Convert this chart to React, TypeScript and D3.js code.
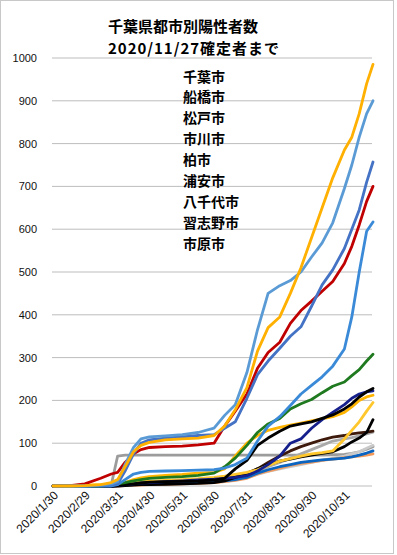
import React from "react";
import * as d3 from "d3";

// chart text
const titleLines = ["千葉県都市別陽性者数", "2020/11/27確定者まで"];
const titleWidths = [150, 171];
const legendNames = ["千葉市", "船橋市", "松戸市", "市川市", "柏市", "浦安市", "八千代市", "習志野市", "市原市"];
const yTicks = [0, 100, 200, 300, 400, 500, 600, 700, 800, 900, 1000];
const xTickDates = ["2020-01-30", "2020-02-29", "2020-03-31", "2020-04-30", "2020-05-31", "2020-06-30", "2020-07-31", "2020-08-31", "2020-09-30", "2020-10-31"];

// sample dates (cumulative counts)
const dates = [
  "2020-01-30", "2020-02-15", "2020-02-29", "2020-03-15", "2020-03-25", "2020-03-31",
  "2020-04-07", "2020-04-15", "2020-04-22", "2020-04-30", "2020-05-15", "2020-05-31",
  "2020-06-15", "2020-06-30", "2020-07-10", "2020-07-20", "2020-07-31", "2020-08-10",
  "2020-08-20", "2020-08-31", "2020-09-10", "2020-09-20", "2020-09-30", "2020-10-10",
  "2020-10-20", "2020-10-31", "2020-11-07", "2020-11-14", "2020-11-21", "2020-11-27",
];

const chiba = [0, 0, 1, 3, 8, 15, 45, 80, 95, 102, 108, 110, 112, 118, 140, 178, 230, 315, 370, 395, 450, 510, 580, 650, 720, 785, 815, 870, 940, 985];
const funabashi = [0, 0, 0, 2, 5, 10, 50, 90, 110, 115, 117, 120, 125, 135, 165, 190, 265, 365, 450, 468, 480, 500, 535, 568, 615, 695, 750, 815, 870, 900];
const matsudo = [0, 0, 0, 1, 3, 5, 35, 75, 100, 108, 112, 115, 118, 120, 135, 150, 205, 260, 292, 322, 350, 372, 420, 470, 505, 555, 600, 645, 710, 757];
const ichikawa = [0, 1, 5, 18, 28, 32, 55, 75, 85, 90, 92, 93, 96, 100, 140, 175, 215, 275, 312, 336, 380, 410, 432, 455, 478, 520, 560, 610, 665, 700];
const kashiwa = [0, 0, 0, 0, 0, 3, 15, 28, 32, 34, 35, 36, 37, 38, 42, 50, 65, 105, 140, 162, 188, 215, 235, 255, 280, 320, 395, 500, 595, 617];
const urayasu = [0, 0, 0, 0, 2, 5, 8, 12, 15, 18, 20, 22, 25, 30, 45, 65, 95, 125, 145, 158, 180, 192, 202, 218, 233, 243, 258, 272, 292, 308];
const yachiyo = [0, 0, 0, 0, 0, 1, 3, 5, 7, 9, 10, 11, 12, 14, 18, 40, 60, 95, 112, 128, 140, 145, 150, 158, 166, 180, 192, 208, 220, 228];
const narashino = [0, 0, 0, 0, 0, 1, 3, 5, 7, 8, 10, 12, 14, 16, 18, 20, 24, 35, 50, 70, 100, 110, 135, 155, 172, 190, 205, 215, 220, 222];
const ichihara = [0, 0, 0, 0, 1, 3, 8, 15, 19, 22, 25, 27, 30, 32, 40, 70, 100, 118, 130, 137, 142, 147, 152, 157, 162, 172, 185, 200, 208, 212];
const sakura = [0, 1, 2, 3, 4, 5, 7, 9, 10, 11, 13, 15, 17, 20, 23, 27, 32, 38, 48, 58, 64, 70, 75, 78, 82, 110, 130, 150, 175, 195];
const nagareyama = [0, 0, 0, 0, 0, 0, 1, 2, 3, 3, 4, 5, 6, 8, 12, 20, 28, 40, 50, 58, 63, 68, 72, 76, 80, 92, 103, 112, 125, 155];
const abiko = [0, 0, 0, 0, 0, 2, 4, 6, 8, 10, 11, 12, 13, 15, 18, 22, 30, 40, 55, 70, 82, 92, 100, 108, 114, 118, 122, 124, 126, 128];
const noda = [0, 0, 0, 0, 0, 1, 3, 5, 7, 9, 11, 13, 15, 17, 19, 21, 25, 35, 45, 55, 65, 75, 85, 95, 105, 110, 113, 117, 122, 126];
const inzai = [0, 0, 0, 0, 0, 1, 2, 3, 4, 5, 6, 7, 8, 9, 11, 14, 20, 27, 34, 40, 45, 50, 55, 60, 65, 70, 75, 80, 88, 95];
const katori = [0, 0, 0, 0, 3, 70, 72, 72, 72, 72, 72, 72, 72, 72, 72, 72, 72, 72, 72, 72, 72, 72, 72, 72, 73, 74, 76, 80, 86, 92];
const narita = [0, 0, 0, 0, 0, 0, 1, 2, 2, 3, 4, 5, 6, 8, 10, 13, 18, 28, 35, 42, 48, 53, 56, 60, 63, 66, 68, 70, 72, 75];
const kamagaya = [0, 0, 0, 0, 0, 1, 2, 3, 4, 5, 6, 7, 8, 10, 12, 15, 20, 30, 38, 45, 50, 55, 58, 61, 63, 65, 68, 72, 77, 82];

const series = [
  { name: "香取市", values: katori, color: "#9c9c9c" },
  { name: "印西市", values: inzai, color: "#c9c9c9" },
  { name: "野田市", values: noda, color: "#a9a9a9" },
  { name: "成田市", values: narita, color: "#f39a5a" },
  { name: "鎌ケ谷市", values: kamagaya, color: "#0a64c0" },
  { name: "我孫子市", values: abiko, color: "#3d1a0c" },
  { name: "流山市", values: nagareyama, color: "#000000" },
  { name: "佐倉市", values: sakura, color: "#ffc72c" },
  { name: "市原市", values: ichihara, color: "#ffb400" },
  { name: "習志野市", values: narashino, color: "#16208c" },
  { name: "八千代市", values: yachiyo, color: "#000000" },
  { name: "浦安市", values: urayasu, color: "#1f7a1f" },
  { name: "柏市", values: kashiwa, color: "#3a8ad8" },
  { name: "市川市", values: ichikawa, color: "#c00000" },
  { name: "松戸市", values: matsudo, color: "#4472c4" },
  { name: "船橋市", values: funabashi, color: "#5b9bd5" },
  { name: "千葉市", values: chiba, color: "#ffb000" },
];

export default function App() {
  const width = 397;
  const height = 555;
  const parse = d3.timeParse("%Y-%m-%d");
  const days = dates.map((d) => parse(d) as Date);

  const x = d3
    .scaleTime()
    .domain([parse("2020-01-30") as Date, parse("2020-11-27") as Date])
    .range([53, 373]);
  const y = d3.scaleLinear().domain([0, 1000]).range([486, 58]);

  const line = d3
    .line<number>()
    .x((_, i) => x(days[i]))
    .y((v) => y(v));

  const cjk = "'Noto Sans CJK JP', 'Noto Sans', sans-serif";
  const latin = "'Liberation Sans', Arial, sans-serif";

  return (
    <svg width={width} height={height} style={{ position: "absolute", left: 0, top: 0, background: "#fff" }}>
      <rect x={0.5} y={0.5} width={393} height={553} fill="#fff" stroke="#c8c8c8" />

      {/* gridlines + y labels */}
      {yTicks.map((t) => (
        <g key={t}>
          <line x1={52} x2={372} y1={y(t)} y2={y(t)} stroke="#bdbdbd" strokeWidth={1} />
          <text x={37} y={y(t)} textAnchor="end" dominantBaseline="central" fontSize={11} fontFamily={latin} fill="#111">
            {t}
          </text>
        </g>
      ))}

      {/* x labels */}
      {xTickDates.map((s) => {
        const d = parse(s) as Date;
        const label = `${d.getFullYear()}/${d.getMonth() + 1}/${d.getDate()}`;
        return (
          <text
            key={s}
            transform={`translate(${x(d) + 3},${493}) rotate(-45)`}
            textAnchor="end"
            dy="0.35em"
            fontSize={12}
            fontFamily={latin}
            fill="#111"
          >
            {label}
          </text>
        );
      })}

      {/* lines */}
      {series.map((s) => (
        <path
          key={s.name}
          d={line(s.values) as string}
          fill="none"
          stroke={s.color}
          strokeWidth={2.8}
          strokeLinejoin="round"
          strokeLinecap="round"
        />
      ))}

      {/* title */}
      {titleLines.map((t, i) => (
        <text
          key={t}
          x={108}
          y={25 + i * 22}
          dominantBaseline="central"
          fontSize={15}
          fontWeight="bold"
          fontFamily={cjk}
          fill="#000"
          textLength={titleWidths[i]}
          lengthAdjust="spacing"
        >
          {t}
        </text>
      ))}

      {/* legend (names only) */}
      {legendNames.map((n, i) => (
        <text key={n} x={183} y={75.5 + i * 20.9} dominantBaseline="central" fontSize={14} fontWeight="bold" fontFamily={cjk} fill="#000">
          {n}
        </text>
      ))}
    </svg>
  );
}
